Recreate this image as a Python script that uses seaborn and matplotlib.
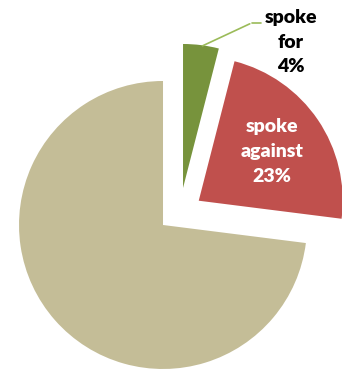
import matplotlib
matplotlib.use("Agg")
import matplotlib.pyplot as plt
import seaborn as sns

categories = ["spoke for", "spoke against", "other"]
values = [4, 23, 73]
label_texts = ["spoke\nfor\n4%", "spoke\nagainst\n23%", ""]
colors_hex = ["#77933C", "#C0504D", "#C4BD97"]

sns.set_theme(style="white")
plt.rcParams['font.family'] = ['Lato', 'DejaVu Sans']

palette = sns.color_palette(colors_hex)

fig = plt.figure(figsize=(3.42, 3.71), dpi=100)
ax = fig.add_axes([0, 0, 1, 1])
wedges, _ = ax.pie(values, colors=palette, startangle=90, counterclock=False,
                   explode=[0.29, 0.30, 0.0], radius=1.0, center=(0, 0),
                   wedgeprops=dict(linewidth=0))
# Excel-style explosion offset for the small slice
wedges[0].set_center((0.139, 0.257))
ax.set_xlim(-1.132, 1.243)
ax.set_ylim(-1.014, 1.5625)
ax.set_aspect('equal')
ax.axis('off')

# red label inside
ax.text(0.757, 0.51, label_texts[1], ha='center', va='center', color='white',
        fontsize=14, fontweight='heavy', linespacing=1.55)
# green label outside
ax.text(0.889, 1.27, label_texts[0], ha='center', va='center', color='black',
        fontsize=14, fontweight='heavy', linespacing=1.55)
ax.annotate("", xy=(0.257, 1.236), xytext=(0.62, 1.405),
            arrowprops=dict(arrowstyle='-', color='#9BBB59', lw=1.2,
                            connectionstyle='angle,angleA=0,angleB=25,rad=0'))
ax.plot([0.62, 0.68], [1.405, 1.405], color='#9BBB59', lw=1.2)

fig.savefig("out.png", dpi=100)
